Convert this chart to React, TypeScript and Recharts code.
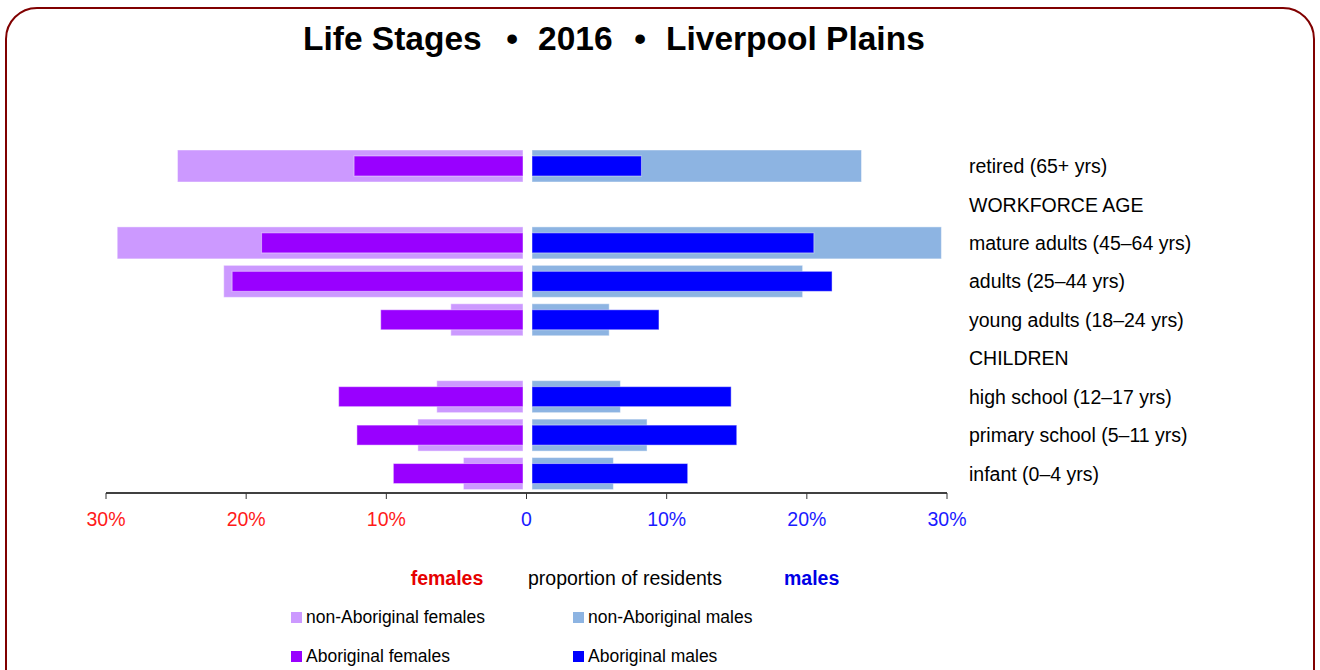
import React from 'react';
import { BarChart, Bar, XAxis, YAxis } from 'recharts';

const FONT = '"Liberation Sans", Arial, sans-serif';

const stages = [
  'retired (65+ yrs)',
  'WORKFORCE AGE',
  'mature adults (45–64 yrs)',
  'adults (25–44 yrs)',
  'young adults (18–24 yrs)',
  'CHILDREN',
  'high school (12–17 yrs)',
  'primary school (5–11 yrs)',
  'infant (0–4 yrs)',
];

// percent of residents in each group
const nonAboriginalFemales = [24.9, null, 29.2, 21.6, 5.4, null, 6.4, 7.75, 4.5];
const aboriginalFemales = [12.3, null, 18.9, 21.0, 10.4, null, 13.4, 12.1, 9.5];
const nonAboriginalMales = [23.9, null, 29.6, 19.7, 5.9, null, 6.7, 8.6, 6.2];
const aboriginalMales = [8.2, null, 20.5, 21.8, 9.45, null, 14.6, 15.0, 11.5];

const xTicks = [-30, -20, -10, 0, 10, 20, 30];

const legendItems = [
  { name: 'non-Aboriginal females', color: '#cc99ff' },
  { name: 'non-Aboriginal males', color: '#8db4e2' },
  { name: 'Aboriginal females', color: '#9900ff' },
  { name: 'Aboriginal males', color: '#0000ff' },
];

const data = stages.map((stage, i) => ({
  stage,
  nonAbF: nonAboriginalFemales[i] == null ? null : -(nonAboriginalFemales[i] as number),
  abF: aboriginalFemales[i] == null ? null : -(aboriginalFemales[i] as number),
  nonAbM: nonAboriginalMales[i],
  abM: aboriginalMales[i],
}));

// leave a small white gap either side of zero
const gapBar = (side: 'f' | 'm') => (props: any) => {
  const { x, y, width, height, fill } = props;
  if (!isFinite(x) || !isFinite(width) || !width) return <g />;
  let l = Math.min(x, x + width);
  let r = Math.max(x, x + width);
  if (side === 'f') r -= 3.5;
  else l += 5.5;
  if (r - l <= 0) return <g />;
  return (
    <rect x={l} y={y} width={r - l} height={height} fill={fill}
      stroke="rgba(255,255,255,0.45)" strokeWidth={1} />
  );
};

const XTick = (props: any) => {
  const { x, y, payload } = props;
  const v = payload.value;
  return (
    <text x={x} y={y} dy="0.71em" textAnchor="middle" fontSize={19.5}
      fontFamily={FONT} fill={v < 0 ? '#ff1a1a' : '#1a1aff'}>
      {v === 0 ? '0' : `${Math.abs(v)}%`}
    </text>
  );
};

export default function App() {
  return (
    <div style={{ position: 'absolute', left: 0, top: 0, width: 1320, height: 670, overflow: 'hidden', background: '#fff' }}>
      <div style={{
        position: 'absolute', left: 5, top: 7, width: 1306, height: 720,
        border: '2.5px solid #800000', borderRadius: 32,
      }} />
      <BarChart
        width={1320}
        height={670}
        data={data}
        layout="vertical"
        stackOffset="sign"
        margin={{ top: 147, right: 120, bottom: 147, left: 106 }}
        style={{ position: 'absolute', left: 0, top: 0 }}
      >
        <XAxis type="number" domain={[-30, 30]} ticks={xTicks} tick={<XTick />}
          axisLine={{ stroke: '#000', strokeWidth: 1.5 }} tickLine={{ stroke: '#333' }}
          tickSize={6} tickMargin={13} height={30} />
        <YAxis yAxisId="o" type="category" dataKey="stage" orientation="right" width={253}
          axisLine={false} tickLine={false} tickSize={0} tickMargin={22}
          tick={{ fill: '#000', fontSize: 19.5, fontFamily: FONT }} interval={0} />
        <YAxis yAxisId="i" type="category" dataKey="stage" orientation="right" width={0} hide />
        <Bar dataKey="nonAbF" stackId="o" yAxisId="o" fill="#cc99ff" barSize={32}
          isAnimationActive={false} shape={gapBar('f')} />
        <Bar dataKey="nonAbM" stackId="o" yAxisId="o" fill="#8db4e2" barSize={32}
          isAnimationActive={false} shape={gapBar('m')} />
        <Bar dataKey="abF" stackId="i" yAxisId="i" fill="#9900ff" barSize={20}
          isAnimationActive={false} shape={gapBar('f')} />
        <Bar dataKey="abM" stackId="i" yAxisId="i" fill="#0000ff" barSize={20}
          isAnimationActive={false} shape={gapBar('m')} />
      </BarChart>
      <svg width={1320} height={670} style={{ position: 'absolute', left: 0, top: 0, pointerEvents: 'none' }}
        fontFamily={FONT}>
        <g fontSize={33.5} fontWeight="bold" fill="#000">
          <text x={303} y={50}>Life Stages</text>
          <text x={512} y={50} textAnchor="middle">•</text>
          <text x={538} y={50}>2016</text>
          <text x={640} y={50} textAnchor="middle">•</text>
          <text x={666} y={50}>Liverpool Plains</text>
        </g>
        <text x={447} y={585} textAnchor="middle" fontSize={19.5} fontWeight="bold" fill="#e60000">females</text>
        <text x={528} y={585} fontSize={19.5} fill="#000">proportion of residents</text>
        <text x={784} y={585} fontSize={19.5} fontWeight="bold" fill="#0000e6">males</text>
        {legendItems.map((item, i) => {
          const lx = i % 2 === 0 ? 291 : 573;
          const ly = i < 2 ? 612 : 651;
          return (
            <g key={item.name}>
              <rect x={lx} y={ly} width={11} height={11} fill={item.color} />
              <text x={lx + 15} y={ly + 11} fontSize={17.5} fill="#000">{item.name}</text>
            </g>
          );
        })}
      </svg>
    </div>
  );
}
